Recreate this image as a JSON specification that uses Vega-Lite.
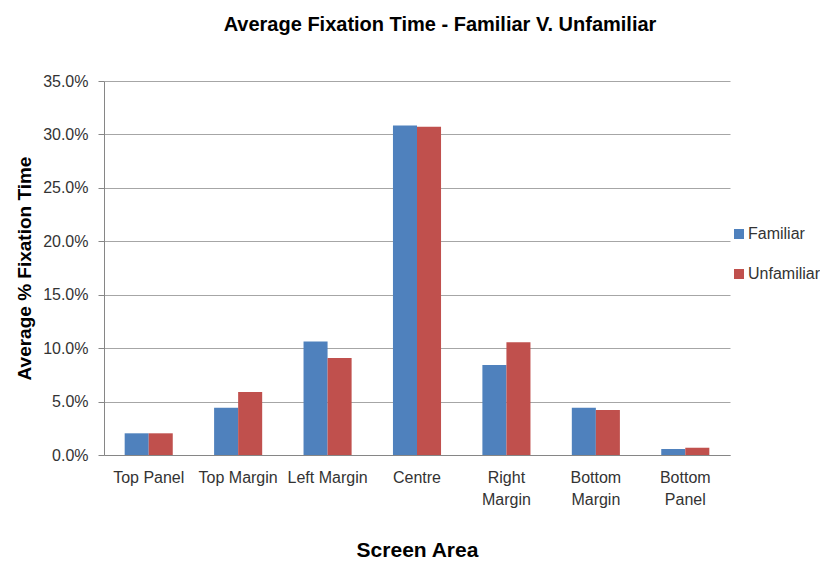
{
  "$schema": "https://vega.github.io/schema/vega-lite/v6.json",
  "width": 626,
  "height": 374,
  "autosize": {"type": "none"},
  "padding": {"left": 104, "top": 81, "right": 90, "bottom": 112},
  "background": "white",
  "title": {
    "text": "Average Fixation Time - Familiar V. Unfamiliar",
    "font": "Liberation Sans",
    "fontSize": 20,
    "fontWeight": "bold",
    "color": "#000000",
    "frame": "group",
    "anchor": "middle",
    "offset": 38,
    "dx": 23
  },
  "data": {
    "values": [
      {"area": "Top Panel", "group": "Familiar", "value": 0.0203},
      {"area": "Top Panel", "group": "Unfamiliar", "value": 0.0203},
      {"area": "Top Margin", "group": "Familiar", "value": 0.0442},
      {"area": "Top Margin", "group": "Unfamiliar", "value": 0.0589},
      {"area": "Left Margin", "group": "Familiar", "value": 0.1063},
      {"area": "Left Margin", "group": "Unfamiliar", "value": 0.0907},
      {"area": "Centre", "group": "Familiar", "value": 0.3083},
      {"area": "Centre", "group": "Unfamiliar", "value": 0.3073},
      {"area": "Right Margin", "group": "Familiar", "value": 0.0842},
      {"area": "Right Margin", "group": "Unfamiliar", "value": 0.1054},
      {"area": "Bottom Margin", "group": "Familiar", "value": 0.0442},
      {"area": "Bottom Margin", "group": "Unfamiliar", "value": 0.0421},
      {"area": "Bottom Panel", "group": "Familiar", "value": 0.0056},
      {"area": "Bottom Panel", "group": "Unfamiliar", "value": 0.0068}
    ]
  },
  "config": {
    "view": {"stroke": null},
    "font": "Liberation Sans",
    "axis": {
      "labelFont": "Liberation Sans",
      "labelFontSize": 16,
      "labelColor": "#333333",
      "titleFont": "Liberation Sans",
      "titleFontSize": 20,
      "titleFontWeight": "bold",
      "titleColor": "#000000",
      "domainColor": "#868686",
      "tickColor": "#868686",
      "gridColor": "#a6a6a6"
    }
  },
  "mark": {"type": "bar"},
  "encoding": {
    "x": {
      "field": "area",
      "type": "nominal",
      "sort": null,
      "scale": {"paddingInner": 0, "paddingOuter": 0},
      "axis": {
        "title": "Screen Area",
        "titleFontSize": 21,
        "titlePadding": 32,
        "labelAngle": 0,
        "labelPadding": 14,
        "ticks": false,
        "domain": true,
        "labelExpr": "datum.label == 'Right Margin' ? ['Right', 'Margin'] : datum.label == 'Bottom Margin' ? ['Bottom', 'Margin'] : datum.label == 'Bottom Panel' ? ['Bottom', 'Panel'] : datum.label",
        "labelLineHeight": 22
      }
    },
    "xOffset": {
      "field": "group",
      "type": "nominal",
      "scale": {"paddingInner": 0, "paddingOuter": 0.86}
    },
    "y": {
      "field": "value",
      "type": "quantitative",
      "scale": {"domain": [0, 0.35], "nice": false},
      "axis": {
        "title": "Average % Fixation Time",
        "titleFontSize": 19,
        "format": ".1%",
        "values": [0, 0.05, 0.1, 0.15, 0.2, 0.25, 0.3, 0.35],
        "tickSize": 6,
        "labelPadding": 10,
        "titlePadding": 8,
        "grid": true
      }
    },
    "color": {
      "field": "group",
      "type": "nominal",
      "scale": {"domain": ["Familiar", "Unfamiliar"], "range": ["#4F81BD", "#C0504D"]},
      "legend": {
        "title": null,
        "orient": "none",
        "legendX": 625,
        "legendY": 143,
        "symbolType": "square",
        "symbolSize": 100,
        "symbolStrokeWidth": 0,
        "labelFont": "Liberation Sans",
        "labelFontSize": 16,
        "labelColor": "#333333",
        "labelOffset": 1,
        "padding": 2,
        "rowPadding": 24
      }
    }
  }
}
